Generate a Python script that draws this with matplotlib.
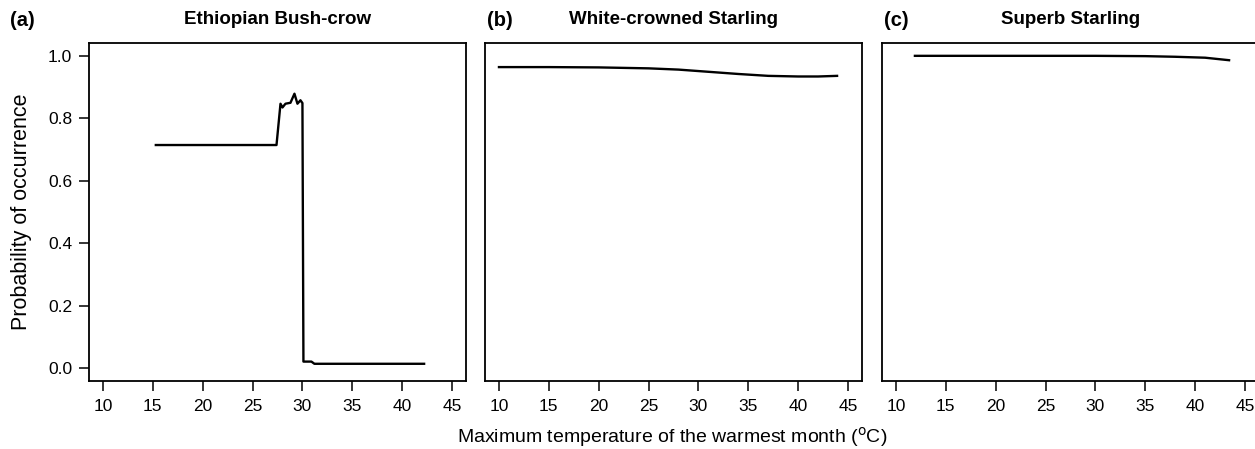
import matplotlib.pyplot as plt
import numpy as np

plt.rcParams['font.family'] = ['Liberation Sans', 'DejaVu Sans']

# panel (a) Ethiopian Bush-crow
bushcrow_temp = [15.3, 27.4, 27.8, 28.0, 28.3, 28.8, 29.2, 29.5, 29.8, 30.0,
                 30.1, 30.9, 31.2, 42.2]
bushcrow_prob = [0.714, 0.714, 0.846, 0.834, 0.846, 0.849, 0.878, 0.846, 0.857, 0.848,
                 0.022, 0.022, 0.015, 0.015]

# panel (b) White-crowned Starling
wcstarling_temp = [10.0, 15.0, 20.0, 25.0, 28.0, 31.0, 34.0, 37.0, 40.0, 42.0, 43.9]
wcstarling_prob = [0.963, 0.963, 0.962, 0.959, 0.955, 0.948, 0.941, 0.935, 0.933, 0.933, 0.935]

# panel (c) Superb Starling
superb_temp = [11.9, 20.0, 30.0, 35.0, 38.0, 41.0, 43.4]
superb_prob = [0.999, 0.999, 0.999, 0.998, 0.996, 0.993, 0.985]

titles = ['Ethiopian Bush-crow', 'White-crowned Starling', 'Superb Starling']
letters = ['(a)', '(b)', '(c)']
letter_x = [10, 487, 884]
xticks = [10, 15, 20, 25, 30, 35, 40, 45]
yticks = [0.0, 0.2, 0.4, 0.6, 0.8, 1.0]

W, H = 1255, 449
fig = plt.figure(figsize=(W / 100, H / 100), dpi=100)

lefts = [89, 485, 882]
top, bottom = 43, 381
width = 377

series = [(bushcrow_temp, bushcrow_prob),
          (wcstarling_temp, wcstarling_prob),
          (superb_temp, superb_prob)]

for i, (xs, ys) in enumerate(series):
    ax = fig.add_axes([lefts[i] / W, 1 - bottom / H, width / W, (bottom - top) / H])
    ax.plot(xs, ys, color='black', lw=1.7)
    ax.set_xlim(10 - 1.4, 45 + 1.4)
    ax.set_ylim(-0.04, 1.04)
    ax.set_xticks(xticks)
    ax.set_xticklabels([str(t) for t in xticks])
    ax.tick_params(axis='x', direction='out', length=7, width=1.1, labelsize=12.5, pad=6)
    if i == 0:
        ax.set_yticks(yticks)
        ax.set_yticklabels(['%.1f' % t for t in yticks])
        ax.tick_params(axis='y', direction='out', length=7, width=1.1, labelsize=12.5, pad=5)
    else:
        ax.set_yticks([])
    for s in ax.spines.values():
        s.set_linewidth(1.3)
    cx = (lefts[i] + width / 2) / W
    fig.text(cx, 1 - 20 / H, titles[i], fontsize=13.5, fontweight='bold', ha='center', va='center')
    fig.text(letter_x[i] / W, 1 - 20 / H, letters[i], fontsize=14.5, fontweight='bold',
             ha='left', va='center')

fig.text(22 / W, 1 - 212 / H, 'Probability of occurrence', fontsize=15.5, rotation=90,
         ha='center', va='center')
fig.text(672 / W, 1 - 437 / H, 'Maximum temperature of the warmest month ($^{\\mathrm{o}}$C)',
         fontsize=14, ha='center', va='center')

fig.savefig('out.png', dpi=100)
